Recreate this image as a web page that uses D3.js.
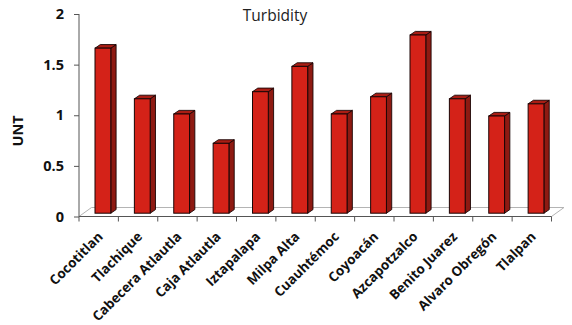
<!DOCTYPE html>
<html>
<head>
<meta charset="utf-8">
<script src="https://cdn.jsdelivr.net/npm/d3@7"></script>
<style>
  html, body { margin: 0; padding: 0; background: #fff; }
  svg { display: block; }
  text { font-family: "Open Sans", Lato, sans-serif; }
</style>
</head>
<body>
<svg id="chart" width="572" height="325"></svg>
<script>
// Turbidity (UNT) by sampling site
const sites = ["Cocotitlan", "Tlachique", "Cabecera Atlautla", "Caja Atlautla", "Iztapalapa",
  "Milpa Alta", "Cuauhtémoc", "Coyoacán", "Azcapotzalco", "Benito Juarez", "Alvaro Obregón", "Tlalpan"];
const turbidity = [1.63, 1.13, 0.98, 0.69, 1.20, 1.45, 0.98, 1.15, 1.76, 1.13, 0.96, 1.08];
const yTicks = [0, 0.5, 1, 1.5, 2];
const title = "Turbidity";
const yTitle = "UNT";

const svg = d3.select("#chart");

// plot frame
const plotLeft = 79, plotRight = 551.5, plotTop = 14, plotBottom = 216.5;
const floorDx = 12.5, floorDy = -9;   // depth of the floor
const barDx = 5.3, barDy = -3.6;      // depth of each column
const midDepth = 3.3;                 // columns stand mid-way on the floor

const x = d3.scaleBand().domain(sites).range([plotLeft, plotRight]).paddingInner(0).paddingOuter(0);
const y = d3.scaleLinear().domain([0, 2]).range([plotBottom, plotTop]);
const yBar = d3.scaleLinear().domain([0, 2]).range([plotBottom - midDepth, plotTop - midDepth]);

// floor
const floor = d3.path();
floor.moveTo(plotLeft, plotBottom);
floor.lineTo(plotLeft + floorDx, plotBottom + floorDy);
floor.lineTo(plotRight + floorDx, plotBottom + floorDy);
floor.lineTo(plotRight, plotBottom);
svg.append("path").attr("d", floor.toString())
  .attr("fill", "none").attr("stroke", "#b4b4b4").attr("stroke-width", 1);

// columns
const barW = 15.8, barOff = 16;
const g = svg.append("g");
sites.forEach((s, i) => {
  const x0 = x(s) + barOff, x1 = x0 + barW;
  const yt = yBar(turbidity[i]), yb = yBar(0);
  const col = g.append("g");
  // side face
  col.append("path")
    .attr("d", `M${x1},${yt}L${x1 + barDx},${yt + barDy}L${x1 + barDx},${yb + barDy}L${x1},${yb}Z`)
    .attr("fill", "#8e1a12").attr("stroke", "#1a0505").attr("stroke-width", 0.9).attr("stroke-linejoin", "round");
  // top face
  col.append("path")
    .attr("d", `M${x0},${yt}L${x0 + barDx},${yt + barDy}L${x1 + barDx},${yt + barDy}L${x1},${yt}Z`)
    .attr("fill", "#a91d14").attr("stroke", "#1a0505").attr("stroke-width", 0.9).attr("stroke-linejoin", "round");
  // front face
  col.append("rect")
    .attr("x", x0).attr("y", yt).attr("width", barW).attr("height", yb - yt)
    .attr("fill", "#d42218").attr("stroke", "#1a0505").attr("stroke-width", 1);
});

// y axis
const yAxis = d3.axisLeft(y).tickValues(yTicks).tickSize(5).tickPadding(10)
  .tickFormat(d3.format("~g"));
const ya = svg.append("g").attr("transform", `translate(${plotLeft},0)`).call(yAxis);
ya.select(".domain").attr("stroke", "#555").attr("d", `M0,${plotTop}V${plotBottom}`);
ya.selectAll(".tick line").attr("stroke", "#555");
ya.selectAll(".tick text").attr("fill", "#111").style("font-size", "14.5px").style("font-weight", "bold");

// x axis
const xAxis = d3.axisBottom(x).tickSize(0).tickFormat("");
const xa = svg.append("g").attr("transform", `translate(0,${plotBottom})`).call(xAxis);
xa.select(".domain").attr("stroke", "#555").attr("d", `M${plotLeft},0H${plotRight}`);
// boundary ticks between categories
const bounds = sites.map(s => x(s)).concat([plotRight]);
xa.selectAll("line.bound").data(bounds).enter().append("line")
  .attr("class", "bound")
  .attr("x1", d => d).attr("x2", d => d).attr("y1", 0).attr("y2", 5)
  .attr("stroke", "#555");

// category labels
svg.append("g").selectAll("text").data(sites).enter().append("text")
  .attr("transform", d => `translate(${x(d) + x.bandwidth() / 2 + 5},${plotBottom + 21}) rotate(-45)`)
  .attr("text-anchor", "end")
  .style("font-size", "13.4px").style("font-weight", "bold").attr("fill", "#111")
  .text(d => d);

// titles
svg.append("text").attr("x", 275).attr("y", 21).attr("text-anchor", "middle")
  .style("font-size", "15.5px").attr("fill", "#222").text(title);
svg.append("text")
  .attr("transform", `translate(22.5,131) rotate(-90)`)
  .attr("text-anchor", "middle")
  .style("font-size", "14.5px").style("font-weight", "bold").attr("fill", "#111")
  .text(yTitle);
</script>
</body>
</html>
